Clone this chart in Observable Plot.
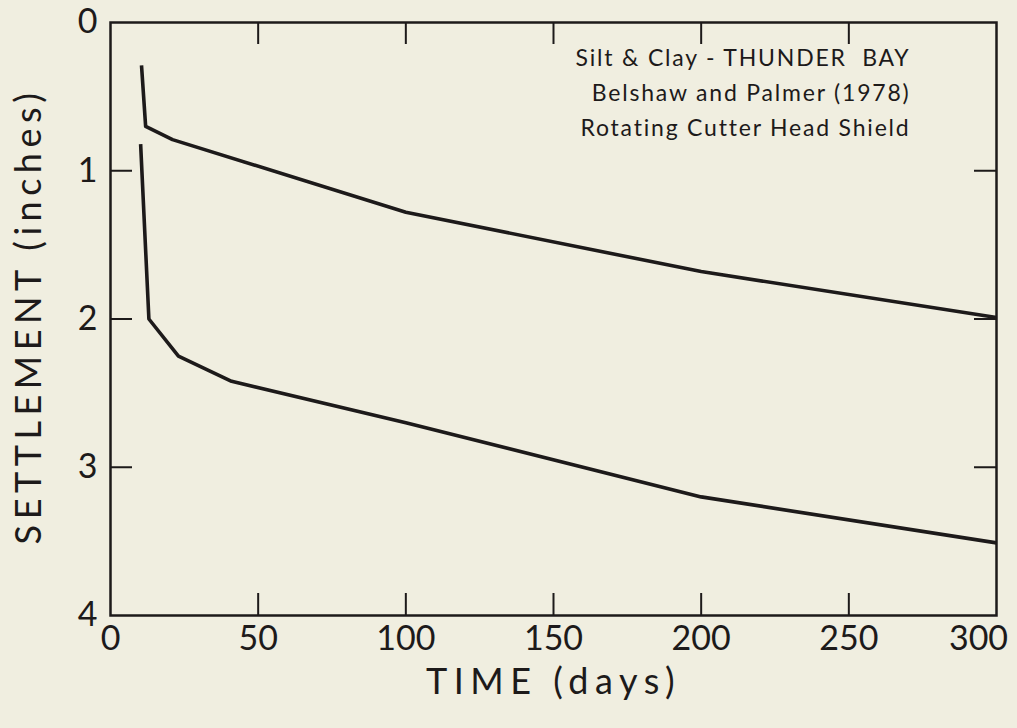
<!DOCTYPE html>
<html>
<head>
<meta charset="utf-8">
<script src="https://cdn.jsdelivr.net/npm/d3@7"></script>
<script src="https://cdn.jsdelivr.net/npm/@observablehq/plot@0.6"></script>
<style>
  html, body { margin: 0; padding: 0; background: #f0eee0; }
  #chart svg { display: block; background: #f0eee0; }
</style>
</head>
<body>
<div id="chart"></div>
<script>
// Upper curve
const upperDays = [10.5, 11.9, 21, 100, 200, 300];
const upperSettlement = [0.29, 0.70, 0.79, 1.28, 1.68, 1.99];
// Lower curve
const lowerDays = [10.2, 13, 23, 41, 100, 200, 300];
const lowerSettlement = [0.82, 2.0, 2.25, 2.42, 2.70, 3.20, 3.51];

const xTicks = [0, 50, 100, 150, 200, 250];
const xLastTick = [300];
const yTicks = [0, 1, 2, 3, 4];
const xInnerTicks = [50, 100, 150, 200, 250];
const yInnerTicks = [1, 2, 3];

const xLabel = "TIME (days)";
const yLabel = "SETTLEMENT (inches)";
const noteLines = ["Silt & Clay - THUNDER  BAY", "Belshaw and Palmer (1978)", "Rotating Cutter Head Shield"];

const series = [
  ...upperDays.map((d, i) => ({curve: "upper", days: d, settlement: upperSettlement[i]})),
  ...lowerDays.map((d, i) => ({curve: "lower", days: d, settlement: lowerSettlement[i]}))
];

const W = 1017, H = 728;
const mL = 110, mR = 21, mT = 22, mB = 113;
const plotH = H - mT - mB;
const plotW = W - mL - mR;
const tickLen = 22;
const ink = "#1d1a1a";
const font = "Lato, 'DejaVu Sans', sans-serif";

const chart = Plot.plot({
  width: W,
  height: H,
  marginLeft: mL,
  marginRight: mR,
  marginTop: mT,
  marginBottom: mB,
  style: {background: "#f0eee0", color: ink, fontFamily: font},
  x: {domain: [0, 300]},
  y: {domain: [0, 4], reverse: true},
  marks: [
    // inward ticks on all four sides
    Plot.tickX(xInnerTicks, {x: d => d, insetTop: plotH - tickLen, stroke: ink, strokeWidth: 2}),
    Plot.tickX(xInnerTicks, {x: d => d, insetBottom: plotH - tickLen, stroke: ink, strokeWidth: 2}),
    Plot.tickY(yInnerTicks, {y: d => d, insetRight: plotW - tickLen, stroke: ink, strokeWidth: 2}),
    Plot.tickY(yInnerTicks, {y: d => d, insetLeft: plotW - tickLen, stroke: ink, strokeWidth: 2}),
    Plot.frame({stroke: ink, strokeWidth: 2.5}),
    Plot.axisX(xTicks, {anchor: "bottom", tickSize: 0, tickPadding: 10, fontSize: 34, label: null, tickFormat: d => String(d)}),
    Plot.axisX(xLastTick, {anchor: "bottom", tickSize: 0, tickPadding: 10, dx: -18, fontSize: 34, label: null, tickFormat: d => String(d)}),
    Plot.axisY(yTicks, {anchor: "left", tickSize: 0, tickPadding: 13, fontSize: 34, label: null, tickFormat: d => String(d)}),
    Plot.line(series, {x: "days", y: "settlement", z: "curve", stroke: ink, strokeWidth: 3.6, strokeLinejoin: "round", strokeLinecap: "butt", curve: "linear"}),
    Plot.text([xLabel], {text: d => d, frameAnchor: "bottom", dy: 67, lineAnchor: "middle", textAnchor: "middle", fontSize: 36, fill: ink}),
    Plot.text([yLabel], {text: d => d, frameAnchor: "left", dx: -81, dy: -3, rotate: -90, lineAnchor: "middle", textAnchor: "middle", fontSize: 36, fill: ink}),
    Plot.text([noteLines.join("\n")], {text: d => d, frameAnchor: "top-right", dx: -86, dy: 19, lineAnchor: "top", textAnchor: "end", lineHeight: 1.52, fontSize: 23, fill: ink})
  ]
});

// letter spacing to match the wide lettering of the original drawing
chart.querySelectorAll("text").forEach(t => {
  const s = t.textContent;
  if (s === xLabel) t.setAttribute("letter-spacing", "6.5px");
  else if (s === yLabel) t.setAttribute("letter-spacing", "5.5px");
  else if (s.startsWith("Silt")) { t.setAttribute("letter-spacing", "1.8px"); t.setAttribute("xml:space", "preserve"); t.style.whiteSpace = "pre"; }
});

document.getElementById("chart").appendChild(chart);
</script>
</body>
</html>
